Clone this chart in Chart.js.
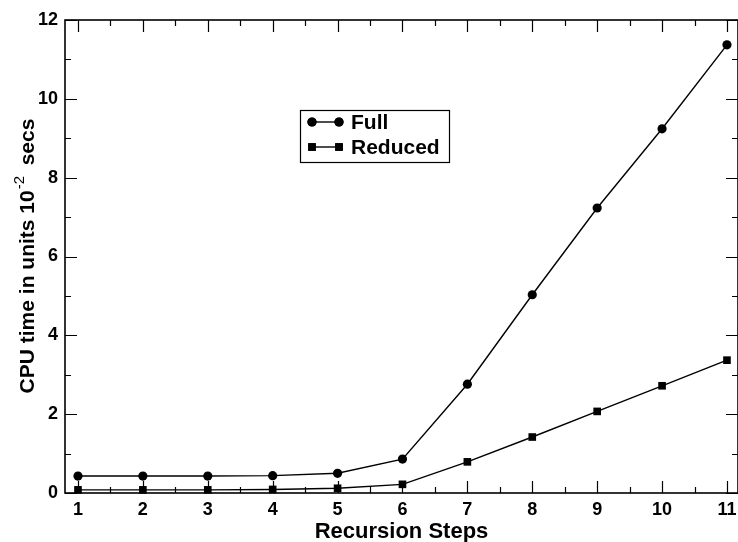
<!DOCTYPE html>
<html>
<head>
<meta charset="utf-8">
<script src="https://cdn.jsdelivr.net/npm/chart.js@4.4.0/dist/chart.umd.min.js"></script>
<style>
  html, body { margin: 0; padding: 0; background: #fff; }
  #wrap { width: 738px; height: 542px; }
</style>
</head>
<body>
<div id="wrap"><canvas id="cpuChart" width="738" height="542"></canvas></div>
<script>
const steps = [1, 2, 3, 4, 5, 6, 7, 8, 9, 10, 11];
const fullTimes = [0.43, 0.43, 0.43, 0.44, 0.5, 0.86, 2.76, 5.03, 7.23, 9.24, 11.37];
const reducedTimes = [0.08, 0.08, 0.08, 0.09, 0.12, 0.22, 0.79, 1.42, 2.07, 2.72, 3.37];
const xTicks = [1, 2, 3, 4, 5, 6, 7, 8, 9, 10, 11];
const yTicks = [0, 2, 4, 6, 8, 10, 12];
const seriesNames = ["Full", "Reduced"];

const FONT = "'Liberation Sans', Arial, Helvetica, sans-serif";

function toPoints(values){
    return steps.map((s, i) => ({ x: s, y: values[i] }));
}

// frame, inward ticks, x labels, axis titles and the boxed legend
const decor = {
    id: "decor",
    afterDraw(chart){
        const ctx = chart.ctx;
        const a = chart.chartArea;
        const xs = chart.scales.x;
        const ys = chart.scales.y;
        ctx.save();
        ctx.strokeStyle = "#000";
        ctx.lineWidth = 1.6;
        ctx.strokeRect(a.left, a.top, a.right - a.left, a.bottom - a.top);

        ctx.lineWidth = 1.2;
        ctx.beginPath();
        for(let v = 1; v <= 11; v += 0.5){
            const px = Math.round(xs.getPixelForValue(v)) + 0.5;
            const len = Number.isInteger(v) ? 12 : 6;
            ctx.moveTo(px, a.bottom); ctx.lineTo(px, a.bottom - len);
            ctx.moveTo(px, a.top); ctx.lineTo(px, a.top + len);
        }
        for(let v = 0; v <= 12; v += 1){
            const py = Math.round(ys.getPixelForValue(v)) + 0.5;
            const len = v % 2 === 0 ? 12 : 6;
            ctx.moveTo(a.left, py); ctx.lineTo(a.left + len, py);
            ctx.moveTo(a.right, py); ctx.lineTo(a.right - len, py);
        }
        ctx.stroke();

        // x tick labels
        ctx.fillStyle = "#000";
        ctx.font = "bold 18px " + FONT;
        ctx.textAlign = "center";
        ctx.textBaseline = "top";
        xTicks.forEach(v => {
            ctx.fillText(String(v), xs.getPixelForValue(v), a.bottom + 8);
        });

        // x title
        ctx.font = "bold 22px " + FONT;
        ctx.textBaseline = "alphabetic";
        ctx.fillText("Recursion Steps", (a.left + a.right) / 2, 538);

        // y title with superscript
        ctx.translate(34, 256);
        ctx.rotate(-Math.PI / 2);
        const partA = "CPU time in units 10";
        const partB = "-2";
        const partC = "  secs";
        ctx.font = "bold 21px " + FONT;
        const wA = ctx.measureText(partA).width;
        const wC = ctx.measureText(partC).width;
        ctx.font = "15px " + FONT;
        const wB = ctx.measureText(partB).width;
        let x0 = -(wA + wB + wC) / 2;
        ctx.textAlign = "left";
        ctx.font = "bold 21px " + FONT;
        ctx.fillText(partA, x0, 0);
        ctx.font = "15px " + FONT;
        ctx.fillText(partB, x0 + wA + 1, -10);
        ctx.font = "bold 21px " + FONT;
        ctx.fillText(partC, x0 + wA + wB, 0);
        ctx.setTransform(1, 0, 0, 1, 0, 0);

        // legend box
        ctx.lineWidth = 1.2;
        ctx.strokeRect(300.5, 110.5, 149, 52);
        const rows = [122, 147];
        chart.data.datasets.forEach((ds, i) => {
            const y = rows[i];
            ctx.beginPath();
            ctx.moveTo(312, y); ctx.lineTo(339, y);
            ctx.lineWidth = 1.4;
            ctx.stroke();
            [312, 339].forEach(px => {
                Chart.helpers.drawPoint(ctx, {
                    pointStyle: ds.pointStyle,
                    radius: ds.pointRadius,
                    rotation: 0
                }, px, y);
                ctx.fill();
            });
            ctx.font = "bold 21px " + FONT;
            ctx.textAlign = "left";
            ctx.textBaseline = "middle";
            ctx.fillText(seriesNames[i], 351, y + 1);
        });
        ctx.restore();
    }
};

const commonLine = {
    borderColor: "#000",
    backgroundColor: "#000",
    pointBackgroundColor: "#000",
    pointBorderColor: "#000",
    borderWidth: 1.4,
    pointBorderWidth: 0,
    tension: 0,
    fill: false,
    clip: false
};

new Chart(document.getElementById("cpuChart").getContext("2d"), {
    type: "line",
    data: {
        datasets: [
            Object.assign({
                label: seriesNames[0],
                data: toPoints(fullTimes),
                pointStyle: "circle",
                pointRadius: 4.6
            }, commonLine),
            Object.assign({
                label: seriesNames[1],
                data: toPoints(reducedTimes),
                pointStyle: "rect",
                pointRadius: 5.4
            }, commonLine)
        ]
    },
    options: {
        responsive: false,
        animation: false,
        devicePixelRatio: 1,
        layout: {
            autoPadding: false,
            padding: { top: 20, right: 0, left: 0, bottom: 0 }
        },
        plugins: {
            legend: { display: false },
            tooltip: { enabled: false }
        },
        scales: {
            x: {
                type: "linear",
                min: 0.8,
                max: 11.17,
                afterBuildTicks: s => { s.ticks = xTicks.map(v => ({ value: v })); },
                afterFit: s => { s.height = 49; },
                grid: { display: false, drawTicks: false },
                border: { display: false },
                ticks: { display: false }
            },
            y: {
                min: 0,
                max: 12,
                afterBuildTicks: s => { s.ticks = yTicks.map(v => ({ value: v })); },
                afterFit: s => { s.width = 65; },
                grid: { display: false, drawTicks: false },
                border: { display: false },
                ticks: {
                    color: "#000",
                    padding: 7,
                    font: { family: FONT, size: 18, weight: "bold" }
                }
            }
        }
    },
    plugins: [decor]
});
</script>
</body>
</html>
